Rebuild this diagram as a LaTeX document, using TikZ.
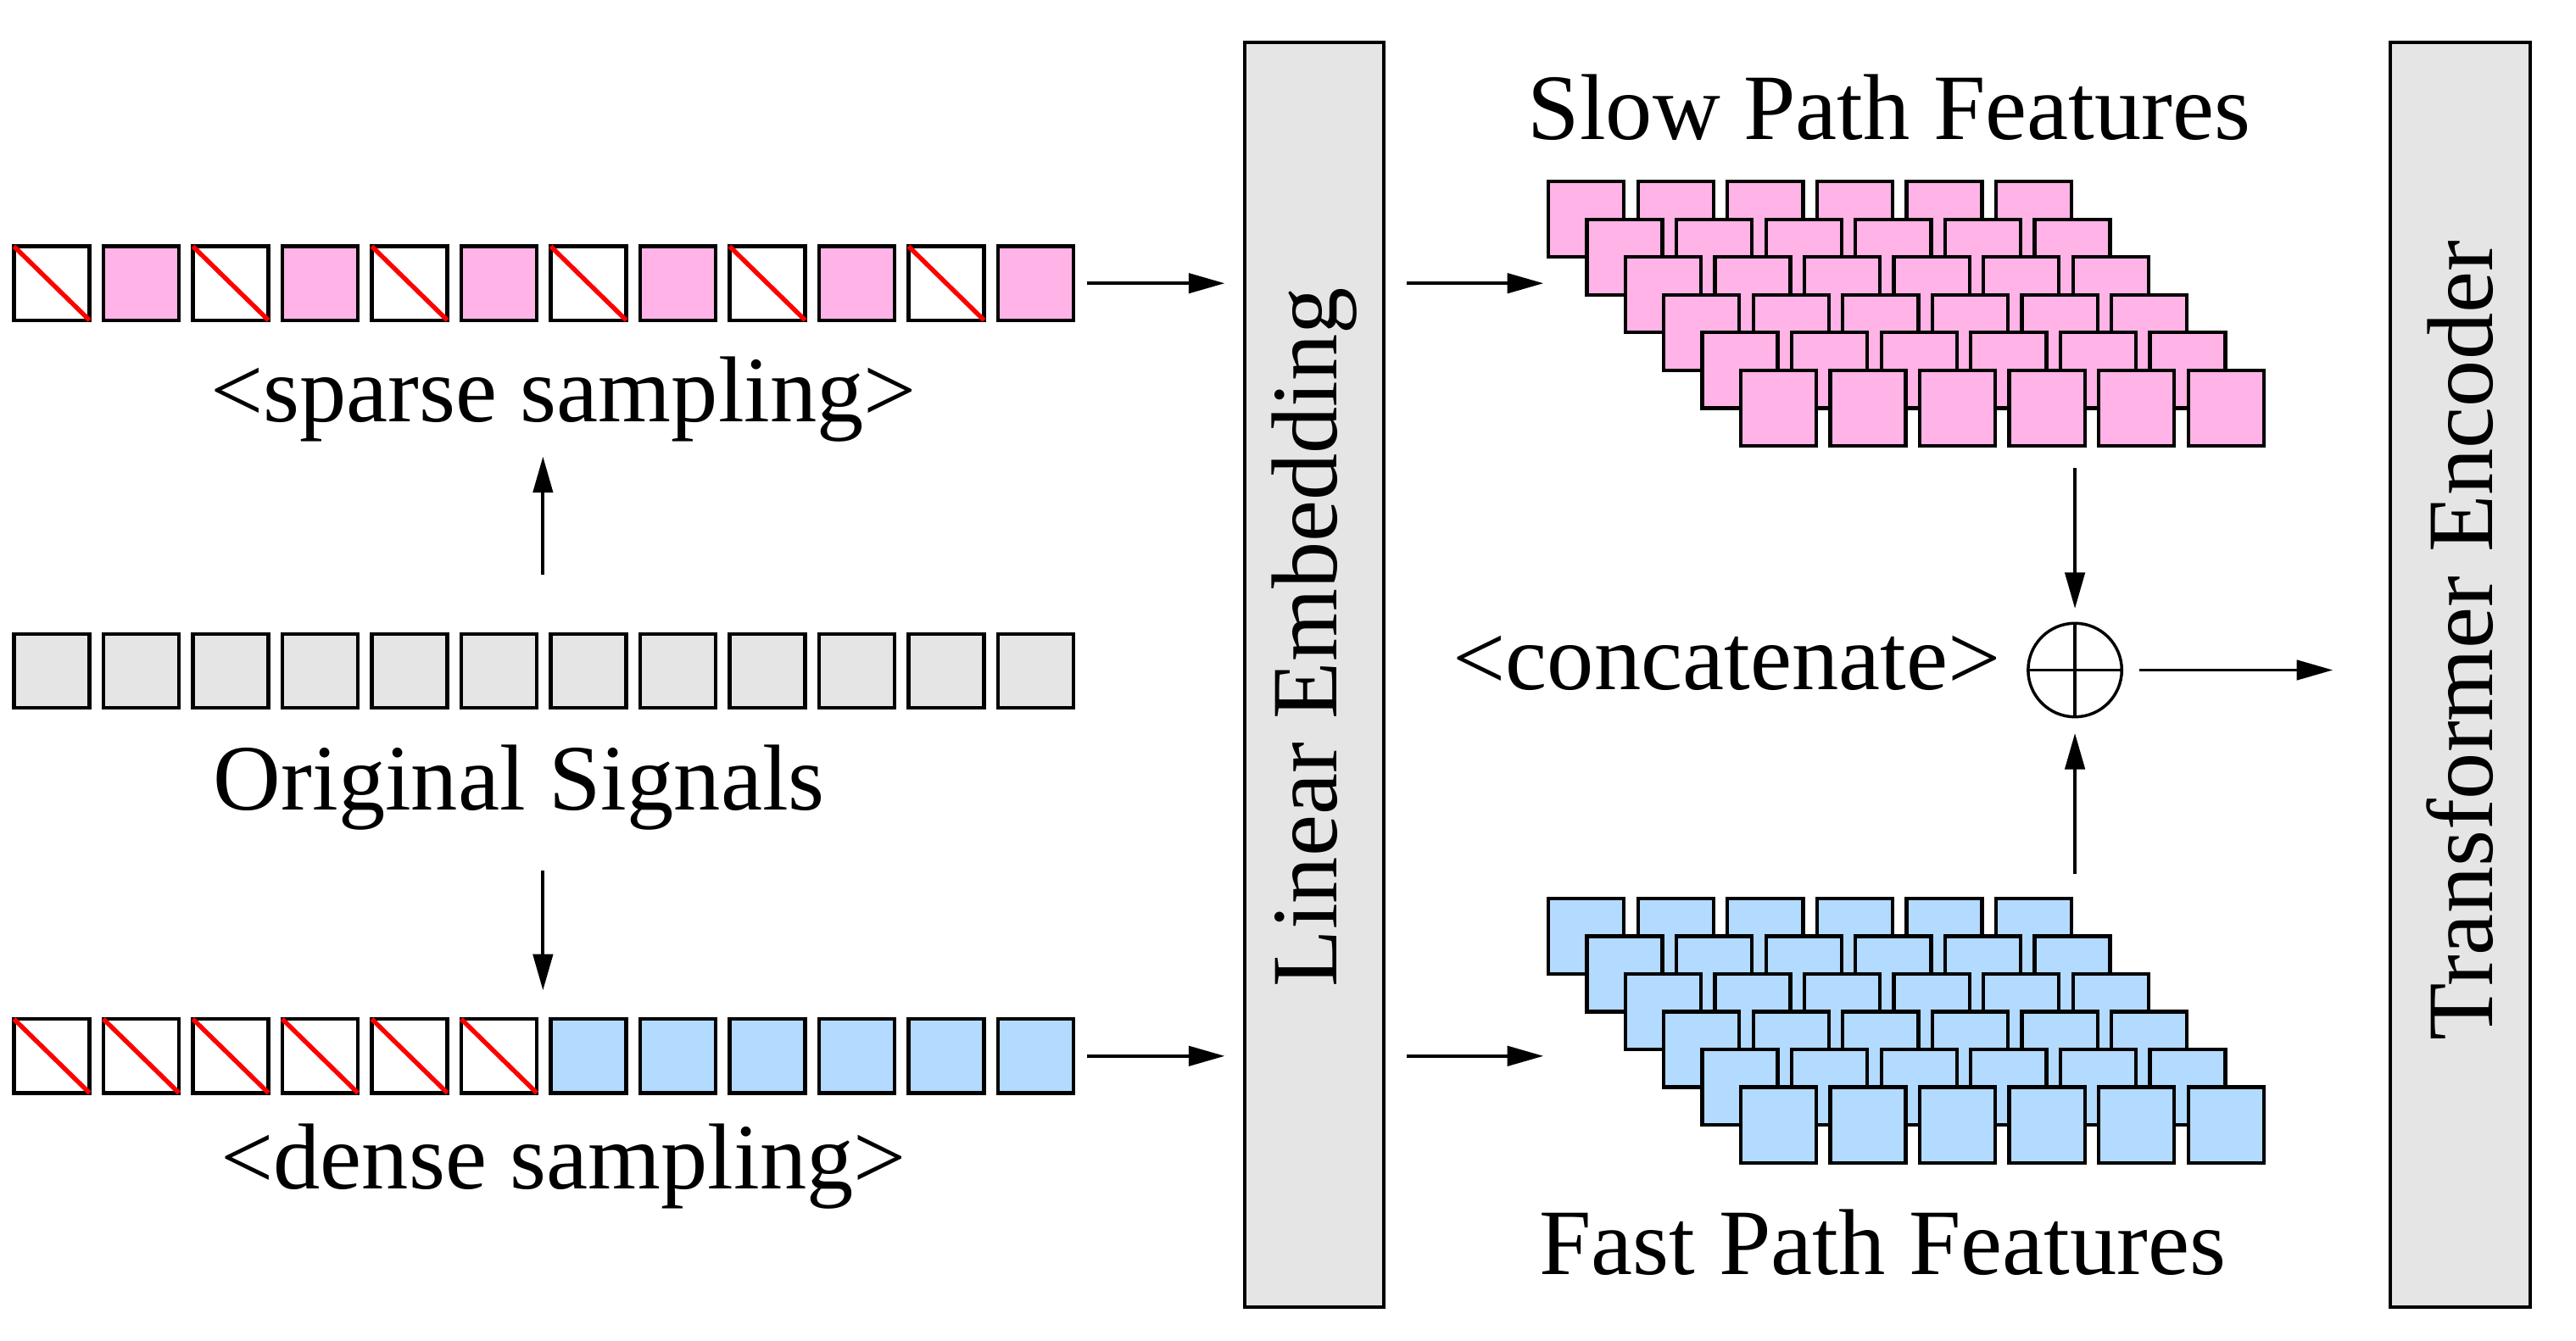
\documentclass[tikz,border=0pt]{standalone}
\usepackage{fontspec}
\setmainfont{Liberation Serif}
\usetikzlibrary{arrows.meta}
\definecolor{pinkc}{HTML}{FFB3E6}
\definecolor{bluec}{HTML}{B3DAFF}
\definecolor{grayc}{HTML}{E5E5E5}
\begin{document}
\begin{tikzpicture}[x=0.5pt,y=-0.5pt,
  cell/.style={draw=black, line width=1.1pt, minimum width=23pt, minimum height=22.5pt, inner sep=0pt, outer sep=0pt},
  feat/.style={draw=black, line width=1.1pt, minimum width=23pt, minimum height=23pt, inner sep=0pt, outer sep=0pt},
  bigbox/.style={draw=black, line width=1.1pt, fill=grayc, minimum width=42.5pt, minimum height=385pt, inner sep=0pt, outer sep=0pt},
  lbl/.style={font=\fontsize{28.5}{34}\selectfont, inner sep=0pt, anchor=base},
  rlbl/.style={font=\fontsize{28.5}{34}\selectfont, inner sep=0pt, rotate=90},
  arr/.style={-{Triangle[length=11pt,width=6pt]}, line width=1pt},
  cross/.style={red, line width=1.4pt}]
\useasboundingbox (0,0) rectangle (1568,816.5);

% rows of signals
\foreach \i in {1,...,12}{
  \pgfmathsetmacro{\cx}{31.5+54.45*(\i-1)}
  % sparse row
  \ifodd\i
    \node[cell, fill=white] (s\i) at (\cx,172.5) {};
    \draw[cross] (s\i.north west) -- (s\i.south east);
  \else
    \node[cell, fill=pinkc] (s\i) at (\cx,172.5) {};
  \fi
  % original row
  \node[cell, fill=grayc] (o\i) at (\cx,408.5) {};
  % dense row
  \ifnum\i<7
    \node[cell, fill=white] (d\i) at (\cx,643) {};
    \draw[cross] (d\i.north west) -- (d\i.south east);
  \else
    \node[cell, fill=bluec] (d\i) at (\cx,643) {};
  \fi
}

% labels
\node[lbl] (sparselbl) at (343,257) {\textless sparse sampling\textgreater};
\node[lbl] (origlbl) at (316,493) {Original Signals};
\node[lbl] (denselbl) at (343,724) {\textless dense sampling\textgreater};
\node[lbl] (slowlbl) at (1150,85) {Slow Path Features};
\node[lbl] (fastlbl) at (1146,776) {Fast Path Features};
\node[lbl] (catlbl) at (1051,420) {\textless concatenate\textgreater};

% big boxes
\node[bigbox] (emb) at (800,411) {};
\node[rlbl] (embtxt) at (800,388) {Linear Embedding};
\node[bigbox] (enc) at (1497.5,411) {};
\node[rlbl] (enctxt) at (1497.5,390) {Transformer Encoder};

% feature grids
\foreach \r in {0,...,5}{
  \foreach \c in {0,...,5}{
    \pgfmathsetmacro{\fx}{965.5+23.4*\r+54.5*\c}
    \pgfmathsetmacro{\fy}{133.5+23*\r}
    \node[feat, fill=pinkc] (sp\r\c) at (\fx,\fy) {};
  }
}
\foreach \r in {0,...,5}{
  \foreach \c in {0,...,5}{
    \pgfmathsetmacro{\fx}{965.5+23.4*\r+54.5*\c}
    \pgfmathsetmacro{\gy}{570+23*\r}
    \node[feat, fill=bluec] (fp\r\c) at (\fx,\gy) {};
  }
}

% concatenate circle
\node[circle, draw=black, line width=0.9pt, minimum size=28.5pt, inner sep=0pt] (plus) at (1263,408) {};
\draw[line width=0.9pt] (plus.north) -- (plus.south);
\draw[line width=0.9pt] (plus.west) -- (plus.east);

% connector end points
\coordinate (upA) at (330.5,350);
\coordinate (upB) at (330.5,278);
\coordinate (dnA) at (330.5,530);
\coordinate (dnB) at (330.5,603);
\coordinate (slowA) at (1263,285);
\coordinate (fastA) at (1263,532);
\coordinate (encIn) at (1420,408);

% connectors
\draw[arr] (upA) -- (upB);
\draw[arr] (dnA) -- (dnB);
\draw[arr] ([xshift=4pt]s12.east) -- ([xshift=-6pt]emb.west |- s12.east);
\draw[arr] ([xshift=4pt]d12.east) -- ([xshift=-6pt]emb.west |- d12.east);
\draw[arr] ([xshift=7pt]emb.east |- s12.east) -- ++(83,0) coordinate (slowIn);
\draw[arr] ([xshift=7pt]emb.east |- d12.east) -- ++(83,0) coordinate (fastIn);
\draw[arr] (slowA) -- ([yshift=4pt]plus.north);
\draw[arr] (fastA) -- ([yshift=-4.5pt]plus.south);
\draw[arr] ([xshift=5pt]plus.east) -- (encIn);
\end{tikzpicture}
\end{document}
